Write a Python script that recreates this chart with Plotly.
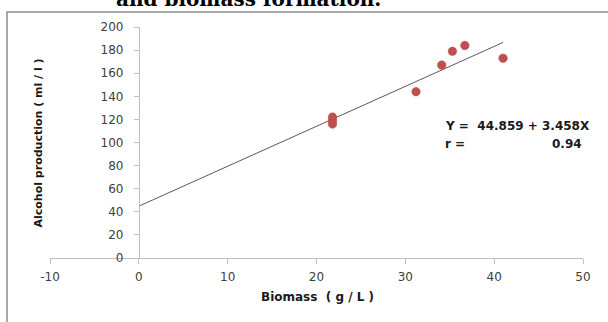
import plotly.graph_objects as go

# Data
biomass = [21.8, 21.8, 21.8, 31.2, 34.1, 35.3, 36.7, 41.0]
alcohol = [116, 119, 122, 144, 167, 179, 184, 173]
intercept = 44.859
slope = 3.458
r_value = 0.94
x_ticks = [-10, 0, 10, 20, 30, 40, 50]
x_tick_labels = ["-10", "0", "10", "20", "30", "40", "50"]
y_ticks = [0, 20, 40, 60, 80, 100, 120, 140, 160, 180, 200]

W, H = 608, 322
L, R, T, B = 50, 25, 27, 64
pw, ph = W - L - R, H - T - B

def px(xp):
    return (xp - L) / pw

def py(yp):
    return (H - B - yp) / ph

x_min, x_max = x_ticks[0], x_ticks[-1]
y_axis_pos = (0 - x_min) / (x_max - x_min)

fit_x = [0, max(biomass)]
fit_y = [intercept + slope * v for v in fit_x]

fig = go.Figure()
fig.add_trace(go.Scatter(x=fit_x, y=fit_y, mode="lines",
                         line=dict(color="#595959", width=1), hoverinfo="skip",
                         showlegend=False))
fig.add_trace(go.Scatter(x=biomass, y=alcohol, mode="markers",
                         marker=dict(color="#c0504d", size=8.5,
                                     line=dict(color="#b04845", width=0.5)),
                         showlegend=False))

grey = "#bfbfbf"
tickfont = dict(family="DejaVu Sans", size=12, color="#404040")
fig.update_layout(
    width=W, height=H,
    margin=dict(l=L, r=R, t=T, b=B),
    paper_bgcolor="white", plot_bgcolor="white",
    xaxis=dict(range=[x_min, x_max], tickvals=x_ticks, ticktext=x_tick_labels,
               showgrid=False, zeroline=False, showline=True, linecolor=grey,
               linewidth=1, ticks="outside", ticklen=5, tickcolor=grey,
               tickfont=tickfont, ticklabelstandoff=3, domain=[0, 1]),
    yaxis=dict(range=[y_ticks[0], y_ticks[-1]], tickvals=y_ticks, showgrid=False,
               zeroline=False, showline=True, linecolor=grey, linewidth=1,
               ticks="outside", ticklen=5, tickcolor=grey, tickfont=tickfont,
               ticklabelstandoff=8, anchor="free", position=y_axis_pos),
)

bold = dict(family="DejaVu Sans", size=12, color="#1a1a1a")
fig.add_annotation(text="<b>Alcohol production ( ml / l )</b>", textangle=-90,
                   xref="paper", yref="paper", x=px(37.5), y=py(143),
                   xanchor="center", yanchor="middle",
                   showarrow=False, font=dict(family="DejaVu Sans", size=11, color="#1a1a1a"))
fig.add_annotation(text="<b>Biomass  ( g / L )</b>",
                   xref="paper", yref="paper", x=px(317), y=py(297),
                   xanchor="center", yanchor="middle",
                   showarrow=False, font=bold)
fig.add_annotation(text="<b>Y =  %.3f + %.3fX</b>" % (intercept, slope),
                   xref="paper", yref="paper", x=px(443), y=py(126),
                   xanchor="left", yanchor="middle",
                   showarrow=False, font=bold)
fig.add_annotation(text="<b>r =</b>",
                   xref="paper", yref="paper", x=px(443), y=py(144),
                   xanchor="left", yanchor="middle",
                   showarrow=False, font=bold)
fig.add_annotation(text="<b>%.2f</b>" % r_value,
                   xref="paper", yref="paper", x=px(584), y=py(144),
                   xanchor="right", yanchor="middle",
                   showarrow=False, font=bold)
fig.add_annotation(text="<b>and biomass formation.</b>",
                   xref="paper", yref="paper", x=px(248), y=py(-1),
                   xanchor="center", yanchor="middle",
                   showarrow=False,
                   font=dict(family="DejaVu Serif", size=20, color="black"))

fig.add_shape(type="rect", xref="paper", yref="paper",
              x0=px(7), y0=py(400), x1=px(700), y1=py(12),
              line=dict(color="#8c8c8c", width=1.5), layer="below")

fig.write_html("out.html", config={"displayModeBar": False},
               post_script="document.body.style.margin='0';document.body.style.overflow='hidden';")
